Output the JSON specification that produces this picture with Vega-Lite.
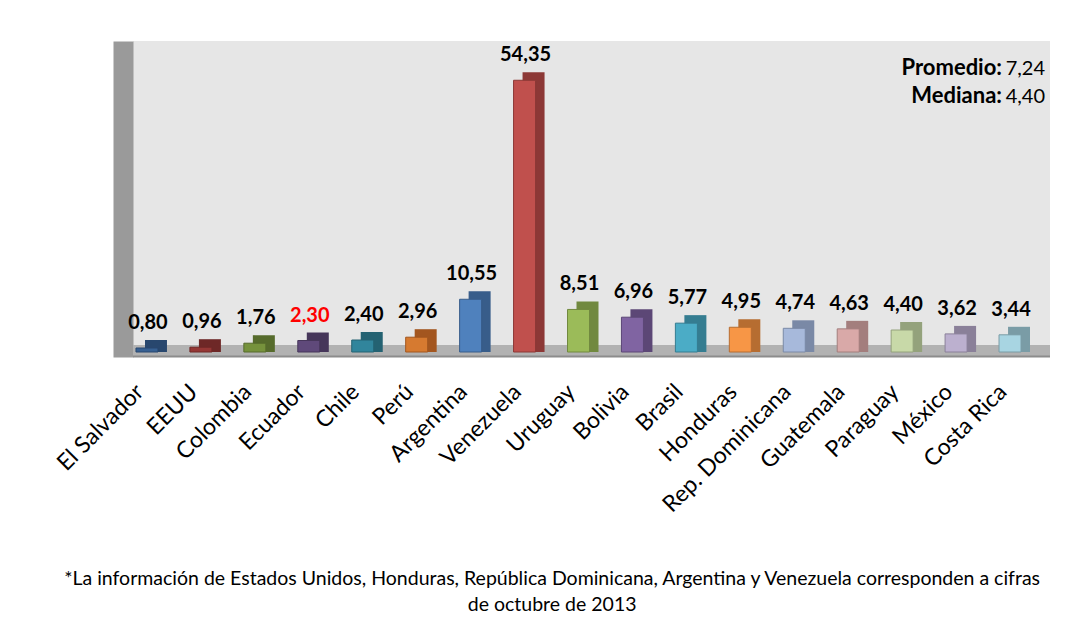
{
  "$schema": "https://vega.github.io/schema/vega-lite/v6.json",
  "width": 917,
  "height": 316,
  "autosize": "none",
  "padding": {"left": 133, "top": 41, "right": 31, "bottom": 260},
  "background": "white",
  "config": {
    "view": {"fill": "#e6e6e6", "stroke": null},
    "font": "Lato",
    "locale": {"number": {"decimal": ",", "thousands": ".", "grouping": [3], "currency": ["", ""]}},
    "axisY": {"domain": true, "domainColor": "#9a9a9a", "domainWidth": 20, "domainCap": "butt", "offset": 10, "labels": false, "ticks": false, "grid": false, "title": null},
    "axisX": {"domain": false, "ticks": false, "tickSize": 0, "grid": false, "title": null, "labelAngle": -45, "labelAlign": "right", "labelBaseline": "middle", "labelFontSize": 23, "labelFont": "Lato", "labelColor": "#000000", "labelPadding": 31, "labelOffset": -20, "labelOverlap": false, "labelLimit": 0}
  },
  "title": {
    "text": ["*La información de Estados Unidos, Honduras, República Dominicana, Argentina y Venezuela corresponden a cifras", "de octubre de 2013"],
    "orient": "bottom",
    "anchor": "middle",
    "frame": "bounds",
    "font": "Lato",
    "fontSize": 19.5,
    "fontWeight": "normal",
    "color": "#000000",
    "lineHeight": 26,
    "offset": 53
  },
  "datasets": {
    "paises": [
      {"pais": "El Salvador", "valor": 0.80},
      {"pais": "EEUU", "valor": 0.96},
      {"pais": "Colombia", "valor": 1.76},
      {"pais": "Ecuador", "valor": 2.30},
      {"pais": "Chile", "valor": 2.40},
      {"pais": "Perú", "valor": 2.96},
      {"pais": "Argentina", "valor": 10.55},
      {"pais": "Venezuela", "valor": 54.35},
      {"pais": "Uruguay", "valor": 8.51},
      {"pais": "Bolivia", "valor": 6.96},
      {"pais": "Brasil", "valor": 5.77},
      {"pais": "Honduras", "valor": 4.95},
      {"pais": "Rep. Dominicana", "valor": 4.74},
      {"pais": "Guatemala", "valor": 4.63},
      {"pais": "Paraguay", "valor": 4.40},
      {"pais": "México", "valor": 3.62},
      {"pais": "Costa Rica", "valor": 3.44}
    ]
  },
  "layer": [
    {
      "data": {"values": [{}]},
      "mark": {"type": "rect", "color": "#b2b2b2"},
      "encoding": {
        "y": {"datum": -1, "type": "quantitative", "scale": {"domain": [-1, 62.2], "nice": false, "zero": false}, "title": null},
        "y2": {"datum": 1.4}
      }
    },
    {
      "data": {"values": [{}]},
      "mark": {"type": "rule", "color": "#8c8c8c", "strokeWidth": 2},
      "encoding": {
        "y": {"datum": -0.9, "type": "quantitative", "title": null}
      }
    },
    {
      "data": {"name": "paises"},
      "mark": {"type": "bar", "width": 22, "xOffset": -4, "yOffset": -8},
      "encoding": {
        "x": {"field": "pais", "type": "nominal", "sort": null, "scale": {"paddingInner": 0, "paddingOuter": 0}, "title": null},
        "y": {"field": "valor", "type": "quantitative", "title": null},
        "y2": {"datum": 0},
        "color": {"field": "pais", "type": "nominal", "sort": null, "legend": null,
          "scale": {"domain": ["El Salvador","EEUU","Colombia","Ecuador","Chile","Perú","Argentina","Venezuela","Uruguay","Bolivia","Brasil","Honduras","Rep. Dominicana","Guatemala","Paraguay","México","Costa Rica"],
            "range": ["#28476e","#6e2827","#566b2c","#46365a","#246272","#a3561f","#385d8a","#8c3836","#71893f","#5c4776","#357d91","#b66d31","#7a89a6","#a37e7d","#94a27c","#8a8099","#7a9ca6"]}}
      }
    },
    {
      "data": {"name": "paises"},
      "mark": {"type": "bar", "width": 22, "xOffset": -13, "strokeWidth": 1},
      "encoding": {
        "x": {"field": "pais", "type": "nominal", "sort": null, "title": null},
        "y": {"field": "valor", "type": "quantitative", "title": null},
        "y2": {"datum": 0},
        "fill": {"field": "pais", "type": "nominal", "sort": null, "legend": null,
          "scale": {"domain": ["El Salvador","EEUU","Colombia","Ecuador","Chile","Perú","Argentina","Venezuela","Uruguay","Bolivia","Brasil","Honduras","Rep. Dominicana","Guatemala","Paraguay","México","Costa Rica"],
            "range": ["#376092","#953735","#76923c","#5f497a","#31859c","#d67a30","#4f81bd","#c0504d","#9bbb59","#8064a2","#4bacc6","#f79646","#a7b9db","#d9a9a8","#c8d9a8","#bcb0cf","#a8d5e2"]}},
        "stroke": {"field": "pais", "type": "nominal", "sort": null, "legend": null,
          "scale": {"domain": ["El Salvador","EEUU","Colombia","Ecuador","Chile","Perú","Argentina","Venezuela","Uruguay","Bolivia","Brasil","Honduras","Rep. Dominicana","Guatemala","Paraguay","México","Costa Rica"],
            "range": ["#28476e","#6e2827","#566b2c","#46365a","#246272","#a3561f","#385d8a","#8c3836","#71893f","#5c4776","#357d91","#b66d31","#7a89a6","#a37e7d","#94a27c","#8a8099","#7a9ca6"]}}
      }
    },
    {
      "data": {"name": "paises"},
      "mark": {"type": "text", "xOffset": -12, "dy": -19, "baseline": "alphabetic", "align": "center", "fontSize": 20, "fontWeight": "bold", "font": "Lato"},
      "encoding": {
        "x": {"field": "pais", "type": "nominal", "sort": null, "title": null},
        "y": {"field": "valor", "type": "quantitative", "title": null},
        "text": {"field": "valor", "type": "quantitative", "format": ".2f"},
        "color": {"condition": {"test": "datum.pais === 'Ecuador'", "value": "#ff0000"}, "value": "#000000"}
      }
    },
    {
      "data": {"values": [{}]},
      "mark": {"type": "text", "align": "right", "baseline": "alphabetic", "dx": -21, "fontSize": 22, "fontWeight": "bold", "font": "Lato", "color": "#000000", "text": "Promedio:"},
      "encoding": {
        "x": {"datum": "Costa Rica", "type": "nominal"},
        "y": {"datum": 55.5, "type": "quantitative", "title": null}
      }
    },
    {
      "data": {"values": [{}]},
      "mark": {"type": "text", "align": "right", "baseline": "alphabetic", "dx": 22, "fontSize": 20, "font": "Lato", "color": "#000000", "text": "7,24"},
      "encoding": {
        "x": {"datum": "Costa Rica", "type": "nominal"},
        "y": {"datum": 55.5, "type": "quantitative", "title": null}
      }
    },
    {
      "data": {"values": [{}]},
      "mark": {"type": "text", "align": "right", "baseline": "alphabetic", "dx": -21, "fontSize": 22, "fontWeight": "bold", "font": "Lato", "color": "#000000", "text": "Mediana:"},
      "encoding": {
        "x": {"datum": "Costa Rica", "type": "nominal"},
        "y": {"datum": 49.9, "type": "quantitative", "title": null}
      }
    },
    {
      "data": {"values": [{}]},
      "mark": {"type": "text", "align": "right", "baseline": "alphabetic", "dx": 22, "fontSize": 20, "font": "Lato", "color": "#000000", "text": "4,40"},
      "encoding": {
        "x": {"datum": "Costa Rica", "type": "nominal"},
        "y": {"datum": 49.9, "type": "quantitative", "title": null}
      }
    }
  ]
}
